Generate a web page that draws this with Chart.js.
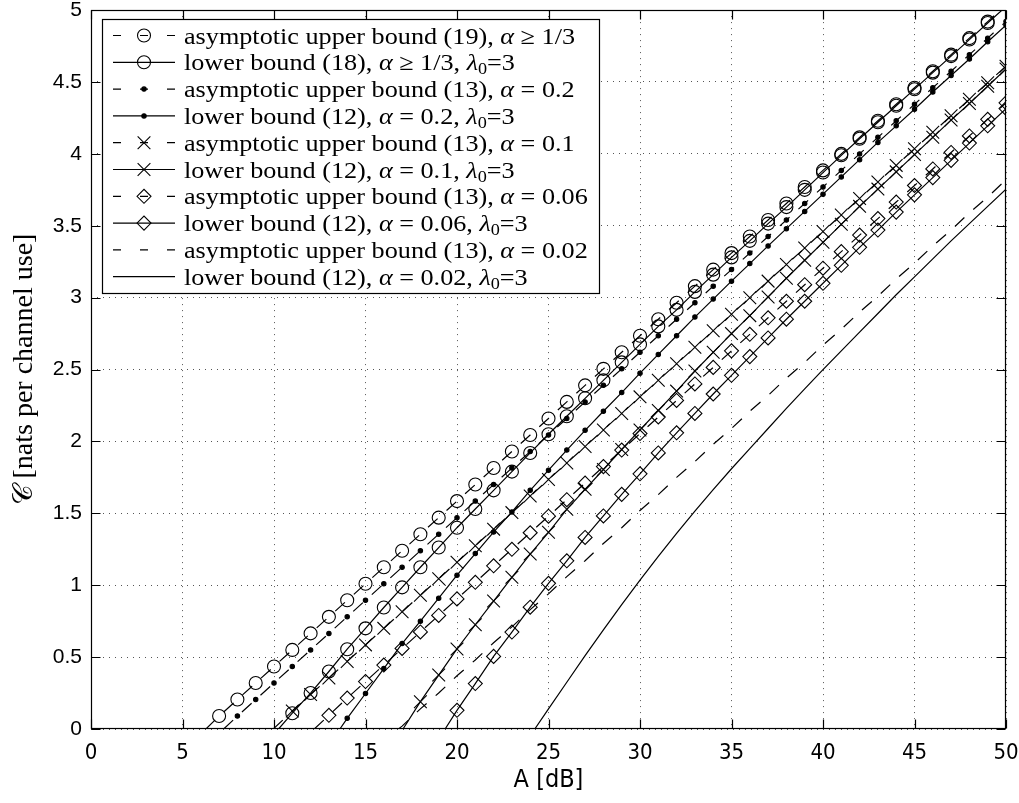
<!DOCTYPE html>
<html>
<head>
<meta charset="utf-8">
<script src="https://cdn.jsdelivr.net/npm/chart.js@4.4.1/dist/chart.umd.min.js"></script>
<style>
html,body{margin:0;padding:0;background:#fff;}
#wrap{width:1019px;height:803px;position:relative;}
</style>
</head>
<body>
<div id="wrap"><canvas id="c"></canvas></div>
<script>
// ---- axis ticks ----
const xTicks = [0,5,10,15,20,25,30,35,40,45,50];
const xTickLabels = ['0','5','10','15','20','25','30','35','40','45','50'];
const yTicks = [0,0.5,1,1.5,2,2.5,3,3.5,4,4.5,5];
const yTickLabels = ['0','0.5','1','1.5','2','2.5','3','3.5','4','4.5','5'];

// ---- series: zero crossing (dB), first marker (dB), values at 1 dB steps ----
const up19Zero = 6.28, up19First = 7;
const up19 = [0.09,0.205,0.32,0.435,0.55,0.665,0.78,0.895,1.01,1.125,1.24,1.355,1.47,1.585,1.70,1.815,1.93,2.045,2.16,2.275,2.39,2.505,2.62,2.735,2.85,2.965,3.08,3.195,3.31,3.425,3.54,3.655,3.77,3.885,4.0,4.115,4.23,4.345,4.46,4.575,4.69,4.805,4.92,5.035];

const low18Zero = 10.25, low18First = 11;
const low18 = [0.11,0.25,0.40,0.555,0.70,0.845,0.985,1.125,1.262,1.40,1.53,1.66,1.79,1.92,2.05,2.175,2.30,2.425,2.55,2.675,2.80,2.915,3.04,3.16,3.28,3.395,3.515,3.63,3.75,3.87,3.99,4.105,4.22,4.335,4.45,4.565,4.68,4.795,4.91,5.025];

const up02Zero = 7.25, up02First = 8;
const up02 = [0.09,0.205,0.32,0.435,0.55,0.665,0.78,0.895,1.01,1.125,1.24,1.355,1.47,1.585,1.70,1.815,1.93,2.045,2.16,2.275,2.39,2.505,2.62,2.735,2.85,2.965,3.08,3.195,3.31,3.425,3.54,3.655,3.77,3.885,4.0,4.115,4.23,4.345,4.46,4.575,4.69,4.805,4.92];

const low02Zero = 13.6, low02First = 14;
const low02 = [0.074,0.247,0.42,0.594,0.75,0.91,1.07,1.22,1.37,1.51,1.66,1.80,1.94,2.077,2.21,2.34,2.475,2.605,2.735,2.865,2.99,3.115,3.237,3.36,3.48,3.60,3.72,3.84,3.96,4.08,4.195,4.31,4.43,4.545,4.66,4.78,4.895];

const up01Zero = 9.96, up01First = 11;
const up01 = [0.125,0.24,0.355,0.47,0.585,0.70,0.815,0.93,1.045,1.16,1.275,1.39,1.505,1.62,1.735,1.85,1.965,2.08,2.195,2.31,2.425,2.54,2.655,2.77,2.885,3.0,3.115,3.23,3.345,3.46,3.575,3.69,3.805,3.92,4.035,4.15,4.265,4.38,4.495,4.61];

const low01Zero = 17.05, low01First = 18;
const low01 = [0.19,0.375,0.557,0.725,0.89,1.055,1.217,1.368,1.528,1.667,1.805,1.944,2.08,2.215,2.35,2.49,2.62,2.75,2.875,3.005,3.135,3.26,3.385,3.51,3.635,3.755,3.875,3.995,4.115,4.235,4.35,4.47,4.59];

const up006Zero = 12.2, up006First = 13;
const up006 = [0.095,0.215,0.33,0.445,0.56,0.675,0.79,0.905,1.02,1.135,1.25,1.365,1.48,1.595,1.71,1.825,1.94,2.055,2.17,2.285,2.40,2.515,2.63,2.745,2.86,2.975,3.09,3.205,3.32,3.435,3.55,3.665,3.78,3.895,4.01,4.125,4.24,4.355];

const low006Zero = 19.35, low006First = 20;
const low006 = [0.13,0.316,0.505,0.674,0.847,1.013,1.17,1.332,1.482,1.632,1.775,1.92,2.06,2.195,2.33,2.46,2.59,2.72,2.85,2.975,3.10,3.225,3.35,3.47,3.595,3.715,3.835,3.955,4.075,4.195,4.315];

const up002Zero = 16.8, up002First = 17;
const up002 = [0.02,0.14,0.25,0.37,0.48,0.60,0.71,0.83,0.94,1.06,1.17,1.29,1.40,1.52,1.63,1.75,1.86,1.98,2.09,2.21,2.32,2.44,2.55,2.67,2.78,2.90,3.01,3.13,3.24,3.36,3.47,3.59,3.70,3.82];

const low002Zero = 24.25, low002First = 25;
const low002 = [0.14,0.325,0.51,0.69,0.865,1.035,1.20,1.36,1.515,1.665,1.81,1.95,2.09,2.23,2.365,2.50,2.63,2.76,2.89,3.02,3.145,3.27,3.395,3.515,3.635,3.755];

// ---- legend labels (segments: n normal, i italic, s subscript) ----
const legendLabels = [
  [['asymptotic upper bound (19), ','n'],['α','i'],[' ≥ 1/3','n']],
  [['lower bound (18), ','n'],['α','i'],[' ≥ 1/3, ','n'],['λ','i'],['0','s'],['=3','n']],
  [['asymptotic upper bound (13), ','n'],['α','i'],[' = 0.2','n']],
  [['lower bound (12), ','n'],['α','i'],[' = 0.2, ','n'],['λ','i'],['0','s'],['=3','n']],
  [['asymptotic upper bound (13), ','n'],['α','i'],[' = 0.1','n']],
  [['lower bound (12), ','n'],['α','i'],[' = 0.1, ','n'],['λ','i'],['0','s'],['=3','n']],
  [['asymptotic upper bound (13), ','n'],['α','i'],[' = 0.06','n']],
  [['lower bound (12), ','n'],['α','i'],[' = 0.06, ','n'],['λ','i'],['0','s'],['=3','n']],
  [['asymptotic upper bound (13), ','n'],['α','i'],[' = 0.02','n']],
  [['lower bound (12), ','n'],['α','i'],[' = 0.02, ','n'],['λ','i'],['0','s'],['=3','n']]
];

function pts(zero, first, vals){
  return [{x: zero, y: 0}].concat(vals.map((v, i) => ({x: first + i, y: v})));
}

function ds(label, data, dashed, style, r, filled){
  return {
    label, data,
    borderColor: '#000', borderWidth: 1.2,
    borderDash: dashed ? [13, 12] : [],
    tension: 0, fill: false,
    pointStyle: style || 'circle',
    pointRadius: (c) => (style && c.dataIndex > 0 && c.raw && c.raw.y <= 5) ? r : 0,
    pointHoverRadius: 0,
    pointBorderColor: '#000',
    pointBackgroundColor: filled ? '#000' : 'rgba(0,0,0,0)',
    pointBorderWidth: 1.1,
    clip: 0,
    _dashed: dashed, _style: style, _r: r, _filled: filled
  };
}

const datasets = [
  ds('up19', pts(up19Zero, up19First, up19), true, 'circle', 6.5, false),
  ds('low18', pts(low18Zero, low18First, low18), false, 'circle', 6.5, false),
  ds('up02', pts(up02Zero, up02First, up02), true, 'circle', 2.2, true),
  ds('low02', pts(low02Zero, low02First, low02), false, 'circle', 2.2, true),
  ds('up01', pts(up01Zero, up01First, up01), true, 'crossRot', 9, false),
  ds('low01', pts(low01Zero, low01First, low01), false, 'crossRot', 9, false),
  ds('up006', pts(up006Zero, up006First, up006), true, 'rectRot', 7, false),
  ds('low006', pts(low006Zero, low006First, low006), false, 'rectRot', 7, false),
  ds('up002', pts(up002Zero, up002First, up002), true, null, 0, false),
  ds('low002', pts(low002Zero, low002First, low002), false, null, 0, false)
];

const SERIF = '"Liberation Serif", "Times New Roman", serif';
const NARROW = '"Liberation Sans Narrow", "Arial Narrow", "DejaVu Sans Condensed", "Liberation Sans", sans-serif';
const SANS = '"Liberation Sans", Arial, Helvetica, sans-serif';

const frame = {
  id: 'frame',
  afterDatasetsDraw(chart){
    const {ctx, chartArea: a, scales: {x, y}} = chart;
    ctx.save();
    ctx.strokeStyle = '#000';
    ctx.lineWidth = 1.2;
    ctx.setLineDash([]);
    const L = Math.round(a.left) + 0.5, R = Math.round(a.right) - 0.5;
    const T = Math.round(a.top) + 0.5, B = Math.round(a.bottom) - 0.5;
    ctx.strokeRect(L, T, R - L, B - T);
    ctx.beginPath();
    xTicks.forEach(v => {
      const px = Math.round(x.getPixelForValue(v)) + 0.5;
      ctx.moveTo(px, B); ctx.lineTo(px, B - 9);
      ctx.moveTo(px, T); ctx.lineTo(px, T + 9);
    });
    yTicks.forEach(v => {
      const py = Math.round(y.getPixelForValue(v)) + 0.5;
      ctx.moveTo(L, py); ctx.lineTo(L + 9, py);
      ctx.moveTo(R, py); ctx.lineTo(R - 9, py);
    });
    ctx.stroke();
    ctx.restore();
  }
};

function mark(ctx, style, r, filled, x, y){
  ctx.beginPath();
  if (style === 'circle') {
    ctx.arc(x, y, r, 0, Math.PI * 2);
    if (filled) ctx.fill();
    ctx.stroke();
  } else if (style === 'crossRot') {
    const d = r * Math.SQRT1_2;
    ctx.moveTo(x - d, y - d); ctx.lineTo(x + d, y + d);
    ctx.moveTo(x + d, y - d); ctx.lineTo(x - d, y + d);
    ctx.stroke();
  } else if (style === 'rectRot') {
    ctx.moveTo(x - r, y); ctx.lineTo(x, y - r); ctx.lineTo(x + r, y); ctx.lineTo(x, y + r);
    ctx.closePath();
    ctx.stroke();
  }
}

const FS = 23;
function segFont(kind){
  if (kind === 'i') return 'italic ' + FS + 'px ' + SERIF;
  if (kind === 's') return Math.round(FS * 0.7) + 'px ' + SERIF;
  return FS + 'px ' + SERIF;
}
function labelWidth(ctx, segs){
  let w = 0;
  segs.forEach(([t, k]) => { ctx.font = segFont(k); w += ctx.measureText(t).width; });
  return w;
}

const legendBox = {
  id: 'legendBox',
  afterDraw(chart){
    const ctx = chart.ctx;
    ctx.save();
    const bx = 102.5, by = 19.5, bw = 497, bh = 274;
    ctx.fillStyle = '#fff';
    ctx.fillRect(bx, by, bw, bh);
    ctx.strokeStyle = '#000';
    ctx.lineWidth = 1.2;
    ctx.strokeRect(bx, by, bw, bh);
    const sx = 391 / labelWidth(ctx, legendLabels[0]);
    chart.data.datasets.forEach((d, i) => {
      const cy = 35.5 + 26.8 * i;
      ctx.strokeStyle = '#000';
      ctx.fillStyle = '#000';
      ctx.lineWidth = 1.2;
      ctx.setLineDash(d._dashed ? [8, 19] : []);
      ctx.beginPath();
      ctx.moveTo(113, cy); ctx.lineTo(175, cy);
      ctx.stroke();
      ctx.setLineDash([]);
      ctx.lineWidth = 1.1;
      if (d._style) mark(ctx, d._style, d._r, d._filled, 144, cy);
      ctx.save();
      ctx.translate(184, cy + 8);
      ctx.scale(sx, 1);
      ctx.textBaseline = 'alphabetic';
      ctx.textAlign = 'left';
      let xo = 0;
      legendLabels[i].forEach(([t, k]) => {
        ctx.font = segFont(k);
        ctx.fillText(t, xo, k === 's' ? 4 : 0);
        xo += ctx.measureText(t).width;
      });
      ctx.restore();
    });
    ctx.restore();
  }
};

new Chart(document.getElementById('c'), {
  type: 'line',
  data: {datasets},
  options: {
    responsive: true,
    maintainAspectRatio: false,
    devicePixelRatio: 1,
    animation: false,
    events: [],
    layout: {padding: {top: 7, right: 13, left: 0, bottom: 0}},
    plugins: {legend: {display: false}, tooltip: {enabled: false}},
    scales: {
      x: {
        type: 'linear', min: 0, max: 50,
        afterBuildTicks: (s) => { s.ticks = xTicks.map(v => ({value: v})); },
        afterFit: (s) => { s.height = 74; s.paddingLeft = 0; s.paddingRight = 0; },
        ticks: {
          autoSkip: false, maxRotation: 0, minRotation: 0, padding: 11, color: '#000',
          font: {family: NARROW, size: 22},
          callback: (v, i) => xTickLabels[i]
        },
        grid: {color: '#555', lineWidth: 1, drawTicks: false},
        border: {display: false, dash: [1, 5]},
        title: {display: true, text: 'A [dB]', color: '#000', font: {family: NARROW, size: 25}, padding: {top: 0, bottom: 8}}
      },
      y: {
        type: 'linear', min: 0, max: 5,
        afterBuildTicks: (s) => { s.ticks = yTicks.map(v => ({value: v})); },
        afterFit: (s) => { s.width = 91; s.paddingTop = 0; s.paddingBottom = 0; },
        ticks: {
          autoSkip: false, padding: 9, color: '#000',
          font: {family: SANS, size: 21},
          callback: (v, i) => yTickLabels[i]
        },
        grid: {color: '#555', lineWidth: 1, drawTicks: false},
        border: {display: false, dash: [1, 5]},
        title: {display: true, text: '𝒞 [nats per channel use]', color: '#000', font: {family: SERIF, size: 28}, padding: {top: 8, bottom: 0}}
      }
    }
  },
  plugins: [frame, legendBox]
});
</script>
</body>
</html>
